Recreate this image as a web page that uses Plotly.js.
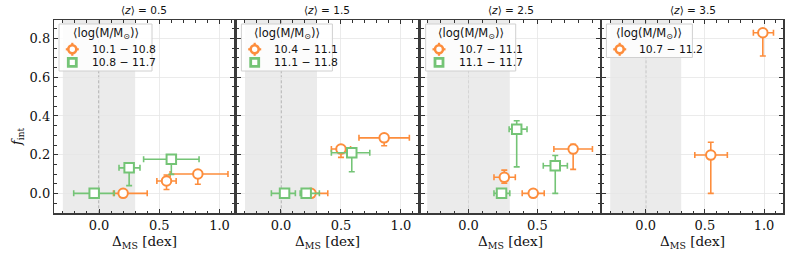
<!DOCTYPE html>
<html><head><meta charset="utf-8">
<script src="https://cdn.plot.ly/plotly-3.0.1.min.js"></script>
<style>body{margin:0;padding:0;background:#fff}#plot{width:789px;height:259px}</style>
</head><body><div id="plot"></div>
<script>
// ---- data ----
const panelTitles = ['⟨<i>z</i>⟩ = 0.5', '⟨<i>z</i>⟩ = 1.5', '⟨<i>z</i>⟩ = 2.5', '⟨<i>z</i>⟩ = 3.5'];
const legendTitle = '⟨log(M/M<sub>⊙</sub>)⟩';
const orangeLabels = ['10.1 − 10.8', '10.4 − 11.1', '10.7 − 11.1', '10.7 − 11.2'];
const greenLabels = ['10.8 − 11.7', '11.1 − 11.8', '11.1 − 11.7', null];

// panel 1
const p1OrangeX = [0.20, 0.56, 0.82];
const p1OrangeXlo = [0.08, 0.08, 0.23];
const p1OrangeXhi = [0.20, 0.08, 0.25];
const p1OrangeY = [0.0, 0.064, 0.10];
const p1OrangeYlo = [0, 0.044, 0.053];
const p1OrangeYhi = [0, 0.031, 0];
const p1GreenX = [-0.04, 0.25, 0.60];
const p1GreenXlo = [0.17, 0.084, 0.23];
const p1GreenXhi = [0.167, 0.09, 0.23];
const p1GreenY = [0.0, 0.132, 0.176];
const p1GreenYlo = [0, 0.092, 0.078];
const p1GreenYhi = [0, 0.023, 0];
// panel 2
const p2OrangeX = [0.25, 0.50, 0.86];
const p2OrangeXlo = [0.05, 0.08, 0.21];
const p2OrangeXhi = [0.14, 0.08, 0.21];
const p2OrangeY = [0.0, 0.229, 0.287];
const p2OrangeYlo = [0, 0.043, 0.041];
const p2OrangeYhi = [0, 0, 0];
const p2GreenX = [0.03, 0.21, 0.59];
const p2GreenXlo = [0.11, 0.05, 0.17];
const p2GreenXhi = [0.09, 0.11, 0.15];
const p2GreenY = [0.0, 0.0, 0.21];
const p2GreenYlo = [0, 0, 0.098];
const p2GreenYhi = [0, 0, 0];
// panel 3
const p3OrangeX = [0.26, 0.47, 0.76];
const p3OrangeXlo = [0.075, 0.08, 0.14];
const p3OrangeXhi = [0.08, 0.08, 0.14];
const p3OrangeY = [0.083, 0.0, 0.229];
const p3OrangeYlo = [0.031, 0, 0.105];
const p3OrangeYhi = [0.037, 0, 0.024];
const p3GreenX = [0.24, 0.35, 0.63];
const p3GreenXlo = [0.055, 0.055, 0.087];
const p3GreenXhi = [0.06, 0.075, 0.088];
const p3GreenY = [0.0, 0.332, 0.143];
const p3GreenYlo = [0, 0.195, 0.143];
const p3GreenYhi = [0, 0.043, 0.053];
// panel 4
const p4OrangeX = [0.55, 0.99];
const p4OrangeXlo = [0.135, 0.08];
const p4OrangeXhi = [0.14, 0.09];
const p4OrangeY = [0.198, 0.83];
const p4OrangeYlo = [0.198, 0.12];
const p4OrangeYhi = [0.066, 0];

// ---- style ----
const ORANGE = '#fd8d3c', GREEN = '#74c476';
const W = 789, H = 259;
const px = [[54.3, 234], [236.7, 418], [421, 600], [601.7, 783.3]];
const xr = [[-0.371, 1.12], [-0.369, 1.142], [-0.345, 0.955], [-0.372, 1.163]];
const legW = [93, 91, 90, 86];
const yTop = 20, yBot = 213.3;
const serif = 'DejaVu Serif, serif';
const sans = 'DejaVu Sans, sans-serif';
const fx = p => p / W, fy = p => 1 - p / H;

function tr(x, xlo, xhi, y, ylo, yhi, color, symbol, name, idx) {
  const s = idx === 0 ? '' : String(idx + 1);
  return {
    type: 'scatter', mode: 'markers', x: x, y: y, name: name,
    xaxis: 'x' + s, yaxis: 'y' + s, showlegend: false,
    marker: {symbol: symbol, size: 9.5, color: 'white', line: {color: color, width: 2}},
    error_x: {type: 'data', symmetric: false, array: xhi, arrayminus: xlo, color: color, thickness: 1.6, width: 3},
    error_y: {type: 'data', symmetric: false, array: yhi, arrayminus: ylo, color: color, thickness: 1.6, width: 3},
    hoverinfo: 'skip'
  };
}

const data = [
  tr(p1OrangeX, p1OrangeXlo, p1OrangeXhi, p1OrangeY, p1OrangeYlo, p1OrangeYhi, ORANGE, 'circle', orangeLabels[0], 0),
  tr(p1GreenX, p1GreenXlo, p1GreenXhi, p1GreenY, p1GreenYlo, p1GreenYhi, GREEN, 'square', greenLabels[0], 0),
  tr(p2OrangeX, p2OrangeXlo, p2OrangeXhi, p2OrangeY, p2OrangeYlo, p2OrangeYhi, ORANGE, 'circle', orangeLabels[1], 1),
  tr(p2GreenX, p2GreenXlo, p2GreenXhi, p2GreenY, p2GreenYlo, p2GreenYhi, GREEN, 'square', greenLabels[1], 1),
  tr(p3OrangeX, p3OrangeXlo, p3OrangeXhi, p3OrangeY, p3OrangeYlo, p3OrangeYhi, ORANGE, 'circle', orangeLabels[2], 2),
  tr(p3GreenX, p3GreenXlo, p3GreenXhi, p3GreenY, p3GreenYlo, p3GreenYhi, GREEN, 'square', greenLabels[2], 2),
  tr(p4OrangeX, p4OrangeXlo, p4OrangeXhi, p4OrangeY, p4OrangeYlo, p4OrangeYhi, ORANGE, 'circle', orangeLabels[3], 3)
];

const layout = {
  width: W, height: H, margin: {l: 0, r: 0, t: 0, b: 0},
  paper_bgcolor: 'white', plot_bgcolor: 'white',
  showlegend: false, shapes: [], annotations: []
};

const yd = [1 - yBot / H, 1 - yTop / H];
for (let i = 0; i < 4; i++) {
  const s = i === 0 ? '' : String(i + 1);
  layout['xaxis' + s] = {
    domain: [px[i][0] / W, px[i][1] / W], range: xr[i], anchor: 'y' + s,
    tick0: 0, dtick: 0.5, tickformat: '.1f', ticks: 'inside', ticklen: 4, tickwidth: 1, tickcolor: '#333',
    minor: {dtick: 0.1, ticks: 'inside', ticklen: 2.5, tickcolor: '#333', showgrid: false},
    mirror: 'allticks', showline: true, linecolor: '#3a3a3a', linewidth: 1.5,
    showgrid: true, gridcolor: '#e6e6e6', gridwidth: 0.8, zeroline: false,
    tickfont: {family: serif, size: 13, color: '#111'}
  };
  layout['yaxis' + s] = {
    domain: yd, range: [-0.103, 0.896], anchor: 'x' + s,
    tick0: 0, dtick: 0.2, tickformat: '.1f', ticks: 'inside', ticklen: 4, tickwidth: 1, tickcolor: '#333',
    minor: {dtick: 0.05, ticks: 'inside', ticklen: 2.5, tickcolor: '#333', showgrid: false},
    mirror: 'allticks', showline: true, linecolor: '#3a3a3a', linewidth: 1.5,
    showgrid: true, gridcolor: '#e6e6e6', gridwidth: 0.8, zeroline: false,
    showticklabels: i === 0,
    tickfont: {family: serif, size: 13, color: '#111'}
  };
  layout.shapes.push({type: 'rect', xref: 'x' + s, yref: 'y' + s + ' domain', x0: -0.3, x1: 0.3, y0: 0, y1: 1,
    fillcolor: '#ebebeb', line: {width: 0}, layer: 'below'});
  layout.shapes.push({type: 'line', xref: 'x' + s, yref: 'y' + s + ' domain', x0: 0, x1: 0, y0: 0, y1: 1,
    line: {color: '#777', width: 0.8, dash: '3px,2px'}, layer: 'below'});
  const cx = (px[i][0] + px[i][1]) / 2 / W;
  layout.annotations.push({text: panelTitles[i], xref: 'paper', yref: 'paper', x: cx, y: fy(10),
    xanchor: 'center', yanchor: 'middle', showarrow: false, font: {family: sans, size: 10.5, color: '#111'}});
  layout.annotations.push({text: 'Δ<sub>MS</sub> [dex]', xref: 'paper', yref: 'paper', x: cx, y: fy(242),
    xanchor: 'center', yanchor: 'middle', showarrow: false, font: {family: serif, size: 13.5, color: '#111'}});

  // ---- legend box (drawn by hand for matplotlib-like compact spacing) ----
  const entries = [{label: orangeLabels[i], color: ORANGE, sym: 'circle'}];
  if (greenLabels[i]) entries.push({label: greenLabels[i], color: GREEN, sym: 'square'});
  const L = px[i][0] + 4.7, T = 24, Wd = legW[i], Hd = 20 + 13.5 * entries.length;
  layout.shapes.push({type: 'rect', xref: 'paper', yref: 'paper', x0: fx(L), x1: fx(L + Wd), y0: fy(T + Hd), y1: fy(T),
    fillcolor: 'rgba(255,255,255,0.85)', line: {color: '#d0d0d0', width: 1}, layer: 'above'});
  layout.annotations.push({text: legendTitle, xref: 'paper', yref: 'paper', x: fx(L + Wd / 2), y: fy(T + 10),
    xanchor: 'center', yanchor: 'middle', showarrow: false, font: {family: sans, size: 11.5, color: '#111'}});
  entries.forEach((e, k) => {
    const cyy = T + 25.3 + 13 * k, cxx = L + 13.3, r = 4;
    if (e.sym === 'circle') {
      layout.shapes.push({type: 'line', xref: 'paper', yref: 'paper', x0: fx(cxx - 6.5), x1: fx(cxx + 6.5), y0: fy(cyy), y1: fy(cyy),
        line: {color: e.color, width: 2.2}, layer: 'above'});
      layout.shapes.push({type: 'line', xref: 'paper', yref: 'paper', x0: fx(cxx), x1: fx(cxx), y0: fy(cyy - 6.5), y1: fy(cyy + 6.5),
        line: {color: e.color, width: 2.2}, layer: 'above'});
      layout.shapes.push({type: 'circle', xref: 'paper', yref: 'paper', x0: fx(cxx - r), x1: fx(cxx + r), y0: fy(cyy + r), y1: fy(cyy - r),
        fillcolor: 'white', line: {color: e.color, width: 2.6}, layer: 'above'});
    } else {
      layout.shapes.push({type: 'rect', xref: 'paper', yref: 'paper', x0: fx(cxx - r), x1: fx(cxx + r), y0: fy(cyy + r), y1: fy(cyy - r),
        fillcolor: 'white', line: {color: e.color, width: 2.8}, layer: 'above'});
    }
    layout.annotations.push({text: e.label, xref: 'paper', yref: 'paper', x: fx(L + 31), y: fy(cyy),
      xanchor: 'left', yanchor: 'middle', showarrow: false, font: {family: sans, size: 10.8, color: '#111'}});
  });
}
layout.annotations.push({text: '<i>f</i><sub>int</sub>', xref: 'paper', yref: 'paper', x: fx(17), y: fy(137),
  xanchor: 'center', yanchor: 'middle', textangle: -90, showarrow: false, font: {family: serif, size: 13, color: '#111'}});

Plotly.newPlot('plot', data, layout, {displayModeBar: false, staticPlot: true});
</script></body></html>
